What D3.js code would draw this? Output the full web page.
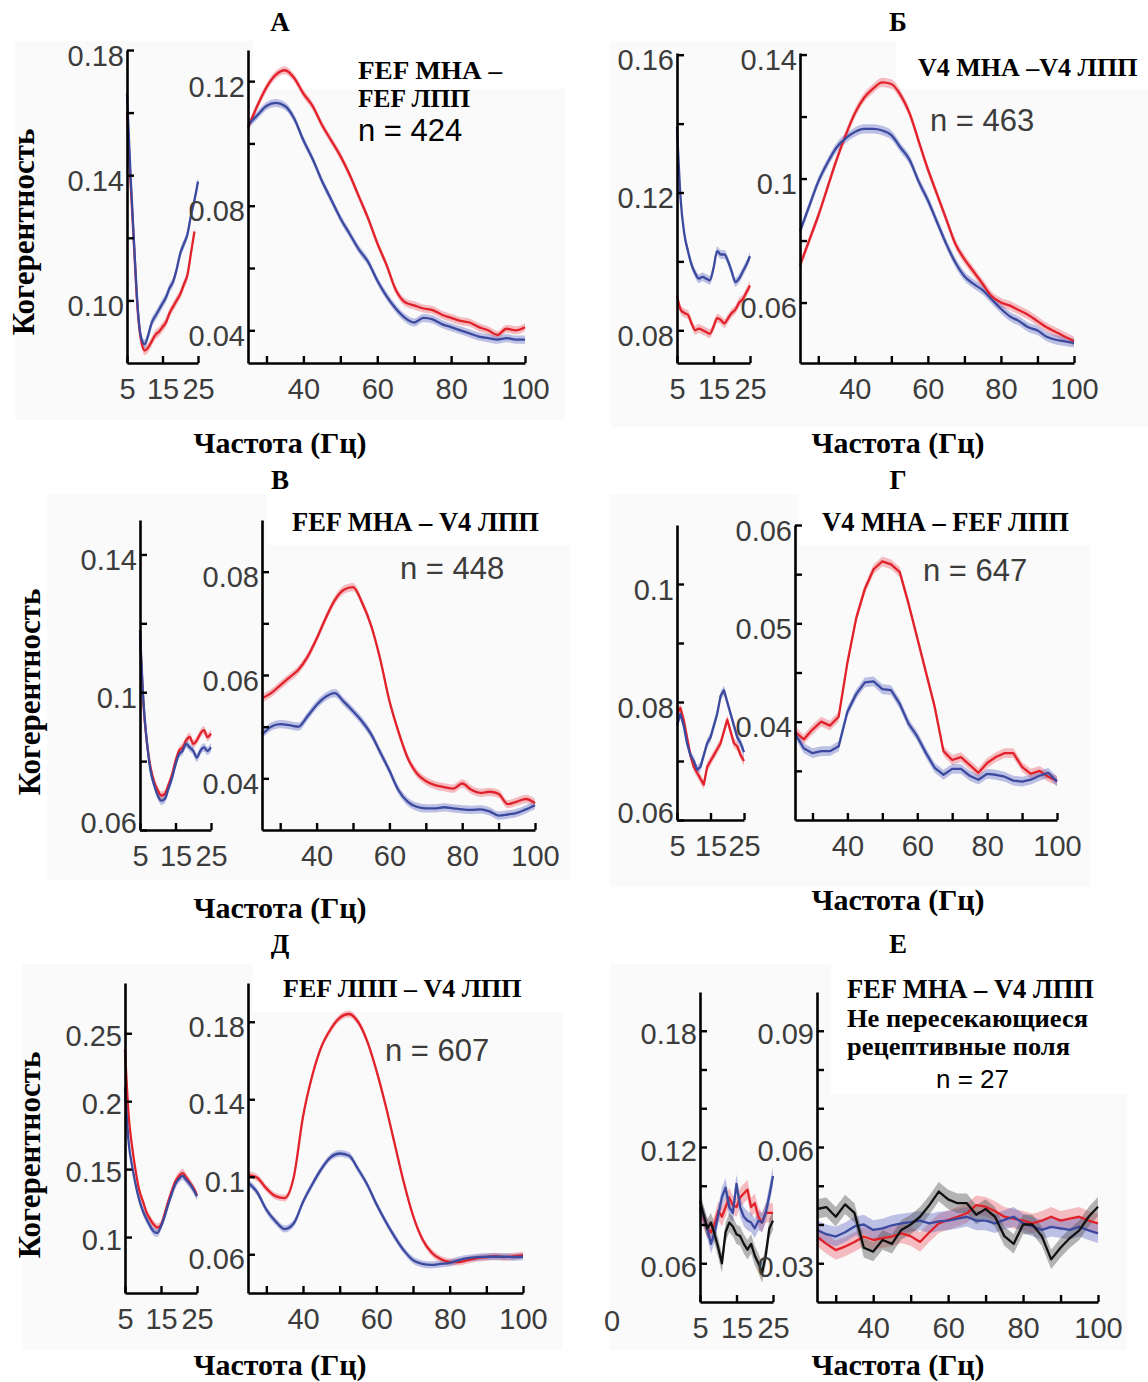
<!DOCTYPE html>
<html><head><meta charset="utf-8">
<script src="https://cdn.jsdelivr.net/npm/d3@7"></script>
<style>body{margin:0;background:#fff;} svg{display:block;}</style>
</head><body>
<svg id="chart" width="1148" height="1382"></svg>
<script>
// ---------- DATA ----------
const freqLow = [5,6,7,8,9,10,11,12,13,14,15,16,17,18,19,20,21,22,23,24,25];
const freqHigh = [25,27.5,30,32.5,35,37.5,40,42.5,45,47.5,50,52.5,55,57.5,60,62.5,65,67.5,70,72.5,75,77.5,80,82.5,85,87.5,90,92.5,95,97.5,100];
const xTicksLow = [5,15,25];
const xLabelsLow = ["5","15","25"];
const xTicksHigh = [30,40,50,60,70,80,90,100];
const xLabelsHigh = ["","40","","60","","80","","100"];

// A: FEF MHA – FEF LPP
const aLowRed  = [0.160,0.138,0.117,0.097,0.087,0.084,0.085,0.087,0.089,0.090,0.0915,0.093,0.096,0.098,0.100,0.102,0.105,0.108,0.115,0.122,null];
const aLowBlue = [0.166,0.140,0.118,0.098,0.088,0.086,0.089,0.093,0.095,0.097,0.099,0.101,0.104,0.106,0.110,0.115,0.118,0.121,0.127,0.132,0.138];
const aHighRed = [0.105,0.112,0.118,0.122,0.1235,0.121,0.116,0.112,0.106,0.101,0.096,0.090,0.083,0.076,0.068,0.061,0.053,0.049,0.048,0.047,0.0465,0.045,0.044,0.043,0.0425,0.041,0.040,0.0385,0.0405,0.040,0.041];
const aHighBlue= [0.106,0.109,0.112,0.113,0.112,0.108,0.101,0.095,0.088,0.082,0.076,0.071,0.066,0.062,0.056,0.051,0.047,0.044,0.0425,0.044,0.0435,0.042,0.041,0.040,0.039,0.038,0.0375,0.037,0.0375,0.037,0.037];

// Б: V4 MHA – V4 LPP
const bLowRed  = [0.090,0.086,0.085,0.0845,0.082,0.080,0.0805,0.080,0.0795,0.079,0.081,0.0835,0.083,0.082,0.0835,0.085,0.086,0.088,0.089,0.091,0.093];
const bLowBlue = [0.139,0.118,0.108,0.103,0.099,0.0965,0.095,0.0955,0.095,0.0945,0.098,0.103,0.102,0.102,0.100,0.097,0.094,0.095,0.097,0.099,0.1015];
const bHighRed = [0.072,0.080,0.088,0.097,0.106,0.114,0.121,0.126,0.129,0.131,0.1305,0.127,0.121,0.112,0.103,0.095,0.087,0.079,0.074,0.070,0.066,0.062,0.060,0.059,0.0575,0.056,0.054,0.052,0.0505,0.049,0.0475];
const bHighBlue= [0.083,0.091,0.099,0.105,0.110,0.113,0.115,0.116,0.116,0.1155,0.114,0.110,0.106,0.099,0.093,0.086,0.079,0.073,0.0685,0.066,0.064,0.061,0.058,0.0555,0.054,0.052,0.051,0.049,0.048,0.0475,0.047];

// В: FEF MHA – V4 LPP
const cLowRed  = [0.116,0.096,0.085,0.078,0.074,0.0715,0.070,0.0705,0.073,0.076,0.080,0.083,0.084,0.086,0.087,0.085,0.086,0.088,0.089,0.087,0.088];
const cLowBlue = [0.118,0.097,0.085,0.077,0.073,0.070,0.0685,0.069,0.072,0.075,0.079,0.082,0.083,0.085,0.084,0.083,0.081,0.083,0.084,0.083,0.084];
const cHighRed = [0.0555,0.0565,0.058,0.0595,0.061,0.0635,0.067,0.071,0.0745,0.0765,0.077,0.074,0.0695,0.063,0.055,0.049,0.044,0.041,0.0395,0.0387,0.0383,0.038,0.039,0.0378,0.0372,0.0374,0.037,0.035,0.0355,0.036,0.0352];
const cHighBlue= [0.0485,0.050,0.0505,0.0503,0.050,0.052,0.0542,0.0558,0.0565,0.0548,0.053,0.051,0.0485,0.045,0.0415,0.0377,0.0355,0.0345,0.0342,0.0342,0.0344,0.0342,0.034,0.0339,0.034,0.0336,0.0328,0.033,0.0333,0.034,0.0348];

// Г: V4 MHA – FEF LPP
const dLowRed  = [0.078,0.079,0.077,0.074,0.071,0.069,0.068,0.067,0.066,0.069,0.070,0.071,0.072,0.073,0.075,0.077,0.075,0.073,0.0725,0.071,0.070];
const dLowBlue = [0.076,0.078,0.076,0.073,0.071,0.070,0.0685,0.069,0.071,0.073,0.074,0.076,0.078,0.081,0.082,0.080,0.078,0.076,0.074,0.073,0.0715];
const dHighRed = [0.039,0.0382,0.0392,0.040,0.0396,0.0405,0.046,0.0505,0.0535,0.0555,0.0563,0.056,0.0552,0.052,0.0485,0.045,0.0415,0.037,0.0361,0.0364,0.0356,0.0348,0.0358,0.0364,0.0368,0.0368,0.0354,0.0347,0.035,0.0344,0.034];
const dHighBlue= [0.0388,0.0373,0.0368,0.037,0.037,0.0375,0.041,0.0428,0.044,0.0441,0.0433,0.0432,0.0418,0.0398,0.0385,0.0368,0.0353,0.0346,0.0352,0.0352,0.0345,0.0341,0.0347,0.0346,0.0344,0.034,0.0339,0.0341,0.0345,0.0348,0.0339];

// Д: FEF LPP – V4 LPP
const eLowRed  = [0.238,0.190,0.166,0.148,0.134,0.126,0.118,0.113,0.109,0.107,0.109,0.117,0.126,0.134,0.141,0.145,0.147,0.144,0.140,0.136,0.131];
const eLowBlue = [0.210,0.170,0.152,0.138,0.127,0.119,0.113,0.108,0.104,0.103,0.108,0.115,0.124,0.132,0.139,0.143,0.145,0.142,0.139,0.135,0.130];
const eHighRed = [0.101,0.0995,0.094,0.090,0.089,0.100,0.131,0.152,0.167,0.176,0.182,0.184,0.180,0.170,0.155,0.137,0.117,0.097,0.080,0.068,0.061,0.0575,0.056,0.056,0.057,0.058,0.0585,0.059,0.0585,0.059,0.0595];
const eHighBlue= [0.097,0.092,0.083,0.077,0.073,0.076,0.087,0.096,0.104,0.110,0.112,0.111,0.104,0.096,0.086,0.077,0.069,0.062,0.057,0.055,0.0545,0.055,0.0555,0.057,0.058,0.0585,0.0587,0.0587,0.0587,0.0585,0.0587];

// Е: FEF MHA – V4 LPP, non-overlapping RFs
const fLowRed  = [0.088,0.083,0.078,0.076,0.080,0.087,0.084,0.089,0.094,0.090,0.089,0.094,0.096,0.098,0.089,0.091,0.084,0.081,0.086,0.086,0.086];
const fLowBlue = [0.089,0.084,0.078,0.070,0.076,0.085,0.094,0.099,0.089,0.086,0.101,0.089,0.084,0.082,0.081,0.078,0.082,0.081,0.086,0.095,0.105];
const fLowBlack= [0.092,0.085,0.078,0.081,0.075,0.068,0.060,0.076,0.081,0.079,0.075,0.074,0.070,0.067,0.070,0.064,0.060,0.055,0.064,0.078,0.082];
const fHighRed = [0.0369,0.035,0.0334,0.0343,0.0355,0.0369,0.036,0.0365,0.0369,0.0377,0.037,0.0355,0.038,0.0403,0.0412,0.042,0.0429,0.045,0.0446,0.0435,0.042,0.0415,0.041,0.0403,0.041,0.042,0.041,0.0415,0.042,0.041,0.0403];
const fHighBlue= [0.0386,0.0375,0.0369,0.038,0.0395,0.040,0.0386,0.039,0.0398,0.0403,0.0406,0.041,0.0403,0.0408,0.041,0.0415,0.042,0.041,0.041,0.0403,0.0412,0.042,0.0403,0.0395,0.0386,0.0394,0.039,0.0386,0.0394,0.0385,0.0377];
const fHighBlack=[0.044,0.0445,0.042,0.0452,0.043,0.034,0.033,0.036,0.035,0.0386,0.040,0.042,0.045,0.0485,0.0465,0.0455,0.0455,0.0425,0.044,0.042,0.037,0.035,0.040,0.040,0.037,0.031,0.034,0.0365,0.0385,0.042,0.0446];

// SEM band half-widths per panel [low, high]
const semA = [0.0015, 0.0013];
const semB = [0.0013, 0.0015];
const semC = [0.0012, 0.0008];
const semD = [0.0008, 0.0005];
const semE = [0.003, 0.0018];
const semF = [0.005, 0.0025];

// ---------- STYLE ----------
const SERIF = '"Liberation Serif","Times New Roman",serif';
const SANS = '"Liberation Sans",Arial,Helvetica,sans-serif';
const COLORS = {red:'#e2222b', blue:'#3b4a9f', black:'#111111'};
const BANDS = {red:'rgba(236,95,105,0.40)', blue:'rgba(95,105,195,0.40)', black:'rgba(80,80,80,0.42)'};
const GRAY = '#3c3c3c';

const svg = d3.select('#chart');

function subplot(g, p) {
  const x = d3.scaleLinear().domain(p.xdom).range(p.xr);
  const y = d3.scaleLinear().domain(p.ydom).range(p.yr);
  const curve = p.curve || d3.curveMonotoneX;
  const data = p.series.map(s => ({key: s.key,
    pts: p.freq.map((f, i) => ({f, v: s.v[i]})).filter(d => d.v != null)}));
  data.forEach(s => {
    g.append('path')
      .attr('d', d3.area().x(d => x(d.f)).y0(d => y(d.v - p.band)).y1(d => y(d.v + p.band)).curve(curve)(s.pts))
      .attr('fill', BANDS[s.key]);
  });
  data.forEach(s => {
    g.append('path')
      .attr('d', d3.line().x(d => x(d.f)).y(d => y(d.v)).curve(curve)(s.pts))
      .attr('fill', 'none').attr('stroke', COLORS[s.key])
      .attr('stroke-width', 2.3).attr('stroke-linejoin', 'round');
  });
  const ya = g.append('g').attr('transform', `translate(${p.xr[0]},0)`)
    .call(d3.axisLeft(y).tickValues(p.yticks).tickFormat((d, i) => p.ylab[i])
      .tickSizeInner(-7).tickSizeOuter(0).tickPadding(3));
  const xa = g.append('g').attr('transform', `translate(0,${p.yr[0]})`)
    .call(d3.axisBottom(x).tickValues(p.xticks).tickFormat((d, i) => p.xlab[i])
      .tickSizeInner(-7).tickSizeOuter(0).tickPadding(15));
  [ya, xa].forEach(a => {
    a.select('.domain').attr('stroke', '#000').attr('stroke-width', 2.6);
    a.selectAll('.tick line').attr('stroke', '#000').attr('stroke-width', 2.4);
    a.selectAll('text').attr('font-family', SANS).attr('font-size', 29).attr('fill', GRAY);
  });
  const ldy = p.ldy || '0.52em';
  ya.selectAll('.tick').each(function(d) {
    // the label sitting on the bottom corner is lifted so it clears the x labels
    const atCorner = Math.abs(y(d) - p.yr[0]) < 3;
    d3.select(this).select('text').attr('dy', atCorner ? '0.1em' : ldy);
  });
}

const panels = [
  { letter:'А', lpos:[280,31], clip:[0,0,572,462], bg:[15,41,550,379], box:[253,41,312,48],
    ylabel:[34,232], xlabel:[280,453],
    notes:[{t:'FEF МНА –',x:358,y:79,serif:true,s:24.5,w:144},{t:'FEF ЛПП',x:358,y:107,serif:true,s:24.5,w:112},{t:'n = 424',x:358,y:141,s:31,c:'#000'}],
    low:{xr:[127,198], yr:[363,50], xdom:[5,25], ydom:[0.08,0.18], yticks:[0.10,0.12,0.14,0.16,0.18], ylab:['0.10','','0.14','','0.18'], band:semA[0], freq:freqLow,
         series:[{key:'red',v:aLowRed},{key:'blue',v:aLowBlue}]},
    high:{xr:[248,525], yr:[363,50], xdom:[25,100], ydom:[0.0295,0.13], yticks:[0.04,0.06,0.08,0.10,0.12], ylab:['0.04','','0.08','','0.12'], band:semA[1], freq:freqHigh,
         series:[{key:'red',v:aHighRed},{key:'blue',v:aHighBlue}]} },
  { letter:'Б', lpos:[898,31], clip:[576,0,572,462], bg:[610,41,538,386], box:[896,41,252,48],
    ylabel:null, xlabel:[898,453],
    notes:[{t:'V4 МНА –V4 ЛПП',x:918,y:76,serif:true,s:26},{t:'n = 463',x:930,y:131,s:31,c:GRAY}],
    low:{xr:[677,750], yr:[363,53], xdom:[5,25], ydom:[0.0705,0.1605], yticks:[0.08,0.10,0.12,0.14,0.16], ylab:['0.08','','0.12','','0.16'], band:semB[0], freq:freqLow,
         series:[{key:'red',v:bLowRed},{key:'blue',v:bLowBlue}]},
    high:{xr:[800,1074], yr:[363,53], xdom:[25,100], ydom:[0.0405,0.1405], yticks:[0.06,0.08,0.1,0.12,0.14], ylab:['0.06','','0.1','','0.14'], band:semB[1], freq:freqHigh,
         series:[{key:'red',v:bHighRed},{key:'blue',v:bHighBlue}]} },
  { letter:'В', lpos:[280,489], clip:[0,462,570,468], bg:[47,494,523,386], box:[267,494,303,51],
    ylabel:[40,692], xlabel:[280,918],
    notes:[{t:'FEF МНА – V4 ЛПП',x:292,y:531,serif:true,s:26.5},{t:'n = 448',x:400,y:579,s:31,c:GRAY}],
    low:{xr:[140,211], yr:[830,520], xdom:[5,25], ydom:[0.06,0.15], yticks:[0.06,0.08,0.1,0.12,0.14], ylab:['0.06','','0.1','','0.14'], band:semC[0], freq:freqLow,
         series:[{key:'red',v:cLowRed},{key:'blue',v:cLowBlue}]},
    high:{xr:[262,535], yr:[830,520], xdom:[25,100], ydom:[0.03,0.09], yticks:[0.04,0.05,0.06,0.07,0.08], ylab:['0.04','','0.06','','0.08'], band:semC[1], freq:freqHigh,
         series:[{key:'red',v:cHighRed},{key:'blue',v:cHighBlue}]} },
  { letter:'Г', lpos:[898,489], clip:[576,462,572,468], bg:[610,494,480,393], box:[798,494,292,51],
    ylabel:null, xlabel:[898,910],
    notes:[{t:'V4 МНА – FEF ЛПП',x:822,y:531,serif:true,s:26.5},{t:'n = 647',x:923,y:581,s:31,c:GRAY}],
    low:{xr:[677,744], yr:[820,525], xdom:[5,25], ydom:[0.06,0.11], yticks:[0.06,0.07,0.08,0.09,0.1], ylab:['0.06','','0.08','','0.1'], band:semD[0], freq:freqLow, curve:d3.curveLinear,
         series:[{key:'red',v:dLowRed},{key:'blue',v:dLowBlue}]},
    high:{xr:[795,1057], yr:[820,525], xdom:[25,100], ydom:[0.03,0.06], yticks:[0.035,0.04,0.045,0.05,0.055,0.06], ylab:['','0.04','','0.05','','0.06'], band:semD[1], freq:freqHigh, curve:d3.curveLinear,
         series:[{key:'red',v:dHighRed},{key:'blue',v:dHighBlue}]} },
  { letter:'Д', lpos:[280,953], clip:[0,930,572,452], bg:[22,964,541,386], box:[253,964,310,48],
    ylabel:[40,1155], xlabel:[280,1375],
    notes:[{t:'FEF ЛПП – V4 ЛПП',x:283,y:997,serif:true,s:26},{t:'n = 607',x:385,y:1061,s:31,c:GRAY}],
    low:{xr:[125,197], yr:[1293,983], xdom:[5,25], ydom:[0.0588,0.287], yticks:[0.1,0.15,0.2,0.25], ylab:['0.1','0.15','0.2','0.25'], band:semE[0], freq:freqLow, ldy:'0.42em',
         series:[{key:'red',v:eLowRed},{key:'blue',v:eLowBlue}]},
    high:{xr:[248,523], yr:[1293,983], xdom:[25,100], ydom:[0.04,0.2], yticks:[0.06,0.1,0.14,0.18], ylab:['0.06','0.1','0.14','0.18'], band:semE[1], freq:freqHigh, ldy:'0.5em',
         series:[{key:'red',v:eHighRed},{key:'blue',v:eHighBlue}]} },
  { letter:'Е', lpos:[898,953], clip:[576,930,572,452], bg:[610,964,517,386], box:[831,964,296,130],
    ylabel:null, xlabel:[898,1375],
    notes:[{t:'FEF МНА – V4 ЛПП',x:847,y:998,serif:true,s:26.5},{t:'Не пересекающиеся',x:847,y:1027,serif:true,s:25.5,w:241},{t:'рецептивные поля',x:847,y:1055,serif:true,s:25.5,w:223},{t:'n = 27',x:936,y:1088,s:26,c:'#000'},{t:'0',x:604,y:1331,s:29,c:GRAY}],
    low:{xr:[700,773], yr:[1302,992], xdom:[5,25], ydom:[0.04,0.2], yticks:[0.06,0.08,0.10,0.12,0.14,0.16,0.18], ylab:['0.06','','','0.12','','','0.18'], band:semF[0], freq:freqLow, curve:d3.curveLinear, ldy:'0.45em',
         series:[{key:'red',v:fLowRed},{key:'blue',v:fLowBlue},{key:'black',v:fLowBlack}]},
    high:{xr:[817,1098], yr:[1302,992], xdom:[25,100], ydom:[0.02,0.10], yticks:[0.03,0.04,0.05,0.06,0.07,0.08,0.09], ylab:['0.03','','','0.06','','','0.09'], band:semF[1], freq:freqHigh, curve:d3.curveLinear, ldy:'0.45em',
         series:[{key:'red',v:fHighRed},{key:'blue',v:fHighBlue},{key:'black',v:fHighBlack}]} }
];

const defs = svg.append('defs');
panels.forEach((P, k) => {
  defs.append('clipPath').attr('id', 'clip' + k).append('rect')
    .attr('x', P.clip[0]).attr('y', P.clip[1]).attr('width', P.clip[2]).attr('height', P.clip[3]);
  const g = svg.append('g').attr('clip-path', `url(#clip${k})`);
  g.append('rect').attr('x', P.bg[0]).attr('y', P.bg[1]).attr('width', P.bg[2]).attr('height', P.bg[3]).attr('fill', '#fafafa');
  g.append('rect').attr('x', P.box[0]).attr('y', P.box[1]).attr('width', P.box[2]).attr('height', P.box[3]).attr('fill', '#ffffff');
  subplot(g, {...P.low, xticks: xTicksLow, xlab: xLabelsLow});
  subplot(g, {...P.high, xticks: xTicksHigh, xlab: xLabelsHigh});
  P.notes.forEach(n => {
    const t = g.append('text').attr('x', n.x).attr('y', n.y).text(n.t)
      .attr('font-family', n.serif ? SERIF : SANS).attr('font-weight', n.serif ? 'bold' : 'normal')
      .attr('font-size', n.s).attr('fill', n.c || '#000');
    if (n.w) t.attr('textLength', n.w).attr('lengthAdjust', 'spacingAndGlyphs');
  });
  svg.append('text').attr('x', P.lpos[0]).attr('y', P.lpos[1]).attr('text-anchor', 'middle')
    .attr('font-family', SERIF).attr('font-weight', 'bold').attr('font-size', 27).text(P.letter);
  svg.append('text').attr('x', P.xlabel[0]).attr('y', P.xlabel[1]).attr('text-anchor', 'middle')
    .attr('font-family', SERIF).attr('font-weight', 'bold').attr('font-size', 30).text('Частота (Гц)');
  if (P.ylabel) {
    svg.append('text').attr('transform', `translate(${P.ylabel[0]},${P.ylabel[1]}) rotate(-90)`)
      .attr('text-anchor', 'middle').attr('font-family', SERIF).attr('font-weight', 'bold')
      .attr('font-size', 31).text('Когерентность');
  }
});
</script>
</body></html>
